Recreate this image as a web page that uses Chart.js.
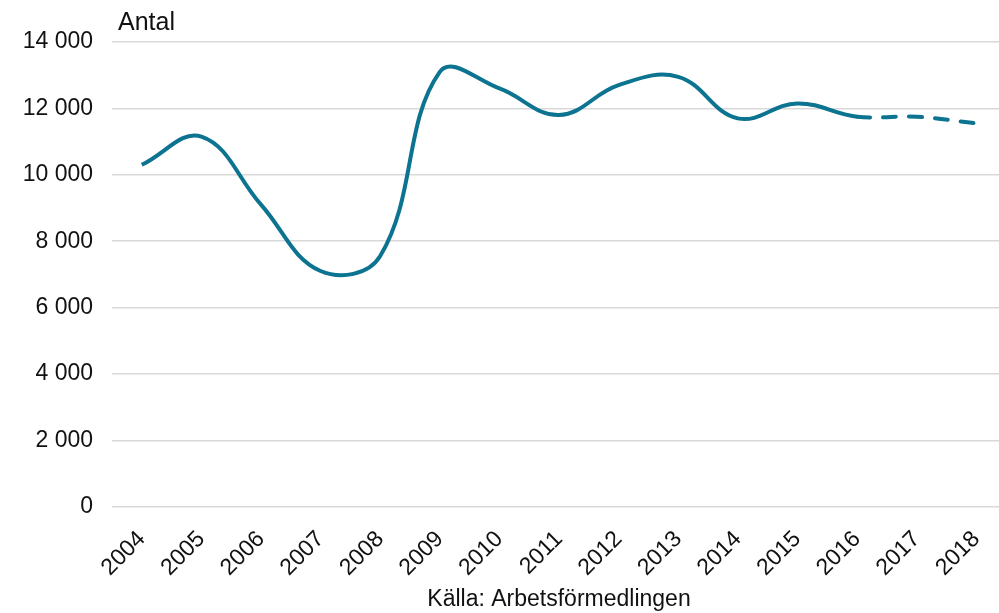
<!DOCTYPE html>
<html>
<head>
<meta charset="utf-8">
<script src="https://cdn.jsdelivr.net/npm/chart.js@4"></script>
<style>
  html, body { margin:0; padding:0; background:#fff; overflow:hidden; }
  #wrap { position:absolute; left:0; top:0; width:1010px; height:613px; }
</style>
</head>
<body>
<div id="wrap"><canvas id="chart"></canvas></div>
<script>
const years = ['2004','2005','2006','2007','2008','2009','2010','2011','2012','2013','2014','2015','2016','2017','2018'];
const antal = [10300, 11150, 9100, 7100, 7550, 13100, 12600, 11800, 12700, 12950, 11700, 12150, 11750, 11750, 11550];
const forecastFrom = 12; // index of 2016, dashed after this
const yTicks = [0, 2000, 4000, 6000, 8000, 10000, 12000, 14000];

const lineColor = '#0c7391';
const fontFamily = '"Liberation Sans", Arial, sans-serif';

function fmt(v){
  return String(v).replace(/\B(?=(\d{3})+(?!\d))/g, ' ');
}

const unitLabel = {
  id:'unitLabel',
  afterDraw(chart){
    const c = chart.ctx;
    c.save();
    c.font = '25px ' + fontFamily;
    c.fillStyle = '#111';
    c.textBaseline = 'alphabetic';
    c.fillText('Antal', chart.chartArea.left + 6, 30);
    c.restore();
  }
};

new Chart(document.getElementById('chart'), {
  type:'line',
  data:{
    labels: years,
    datasets:[{
      label:'Antal',
      data: antal,
      borderColor: lineColor,
      borderWidth: 4,
      tension: .4,
      pointRadius: 0,
      fill:false,
      segment:{
        borderDash: ctx => ctx.p0DataIndex >= forecastFrom ? [13, 13] : undefined,
        borderCapStyle: ctx => ctx.p0DataIndex >= forecastFrom ? 'round' : 'butt'
      }
    }]
  },
  options:{
    responsive:true,
    maintainAspectRatio:false,
    animation:false,
    layout:{ padding:{ top:42, right:4, bottom:0, left:0 } },
    plugins:{ legend:{ display:false }, tooltip:{ enabled:false } },
    scales:{
      x:{
        offset:true,
        afterFit(scale){ scale.height -= 7; },
        grid:{ display:false },
        border:{ display:false },
        ticks:{
          color:'#111',
          font:{ family:fontFamily, size:23 },
          minRotation:45, maxRotation:45,
          padding:11
        },
        title:{
          display:true,
          text:'Källa: Arbetsförmedlingen',
          color:'#111',
          font:{ family:fontFamily, size:23 },
          padding:{ top:0, bottom:0 }
        }
      },
      y:{
        min:0, max:14000,
        afterBuildTicks(scale){ scale.ticks = yTicks.map(v => ({ value:v })); },
        afterFit(scale){ scale.width = 112; },
        grid:{ color:'#d9d9d9', lineWidth:1.5, drawTicks:false },
        border:{ display:false },
        ticks:{
          color:'#111',
          font:{ family:fontFamily, size:23 },
          padding:19,
          callback: v => fmt(v)
        }
      }
    }
  },
  plugins:[unitLabel]
});
</script>
</body>
</html>
